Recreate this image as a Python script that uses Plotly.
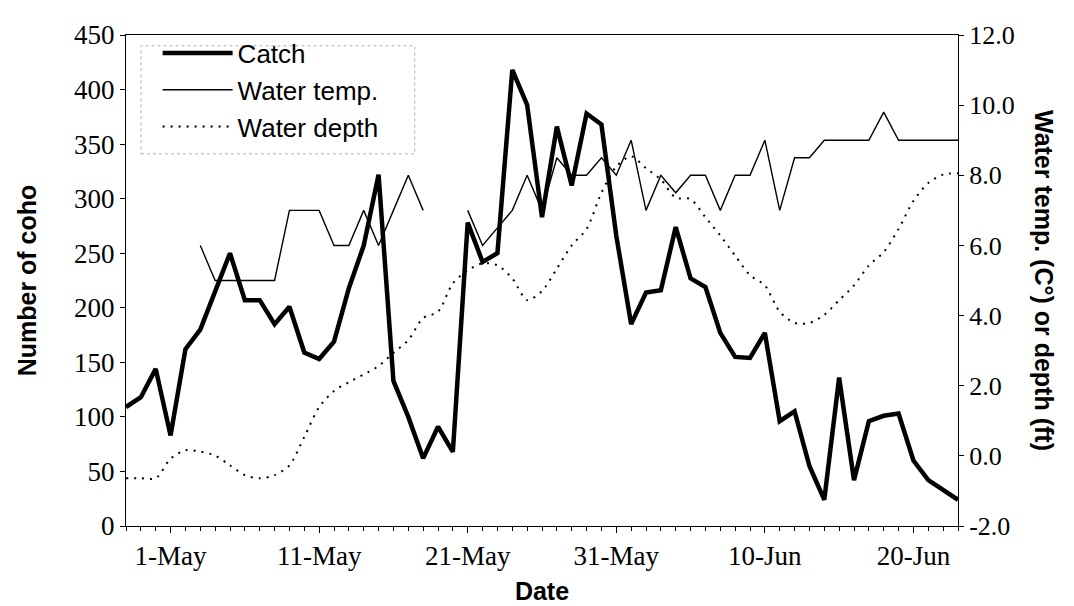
import pandas as pd
import plotly.graph_objects as go

# ---------------- data ----------------
start_date = "2001-04-28"

catch = [109, 118, 144, 83, 162, 180, 215, 250, 207, 207,
         185, 201, 159, 153, 169, 218, 257, 322, 133, 100,
         62, 91, 68, 278, 242, 250, 418, 386, 283, 366,
         312, 378, 368, 266, 185, 214, 216, 274, 227, 219,
         177, 155, 154, 177, 96, 105, 55, 24, 136, 42,
         96, 101, 103, 60, 42, 33, 24]

water_temp = [None, None, None, None, None, 6.0, 5.0, 5.0, 5.0, 5.0,
              5.0, 7.0, 7.0, 7.0, 6.0, 6.0, 7.0, 6.0, 7.0, 8.0,
              7.0, None, None, 7.0, 6.0, 6.5, 7.0, 8.0, 7.0, 8.5,
              8.0, 8.0, 8.5, 8.0, 9.0, 7.0, 8.0, 7.5, 8.0, 8.0,
              7.0, 8.0, 8.0, 9.0, 7.0, 8.5, 8.5, 9.0, 9.0, 9.0,
              9.0, 9.8, 9.0, 9.0, 9.0, 9.0, 9.0]

water_depth = [-0.64, -0.64, -0.64, -0.08, 0.16, 0.12, 0.01, -0.27, -0.55, -0.64,
               -0.55, -0.27, 0.54, 1.39, 1.85, 2.10, 2.32, 2.56, 2.94, 3.30,
               3.93, 4.11, 4.92, 5.29, 5.49, 5.43, 5.06, 4.44, 4.70, 5.34,
               6.00, 6.47, 7.50, 8.25, 8.54, 8.20, 7.88, 7.36, 7.32, 6.80,
               6.28, 5.71, 5.15, 4.86, 4.11, 3.79, 3.79, 4.02, 4.44, 4.86,
               5.43, 5.81, 6.47, 7.27, 7.78, 8.02, 8.06]

tick_dates = ["2001-05-01", "2001-05-11", "2001-05-21",
              "2001-05-31", "2001-06-10", "2001-06-20"]
tick_labels = ["1-May", "11-May", "21-May", "31-May", "10-Jun", "20-Jun"]

left_ticks = [0, 50, 100, 150, 200, 250, 300, 350, 400, 450]
right_ticks = [-2, 0, 2, 4, 6, 8, 10, 12]
right_tick_labels = ["-2.0", "0.0", "2.0", "4.0", "6.0", "8.0", "10.0", "12.0"]

dates = pd.date_range(start_date, periods=len(catch), freq="D")

SERIF = "Liberation Serif, Times New Roman, serif"
SANS = "Liberation Sans, Arial, sans-serif"

fig = go.Figure()
fig.add_trace(go.Scatter(x=dates, y=catch, name="Catch", mode="lines",
                         line=dict(color="black", width=4.5)))
fig.add_trace(go.Scatter(x=dates, y=water_temp, name="Water temp.", mode="lines",
                         yaxis="y2", connectgaps=False,
                         line=dict(color="black", width=1.4)))
fig.add_trace(go.Scatter(x=dates, y=water_depth, name="Water depth", mode="lines",
                         yaxis="y2",
                         line=dict(color="black", width=2, dash="2px,6px",
                                   shape="spline", smoothing=0.8)))

fig.update_layout(
    width=1074, height=606,
    margin=dict(l=118, r=124, t=22, b=88),
    paper_bgcolor="white", plot_bgcolor="white",
    showlegend=True,
    legend=dict(x=0.038, y=1.011, xanchor="left", yanchor="top",
                font=dict(family=SANS, size=26, color="black"),
                bgcolor="rgba(255,255,255,0)", borderwidth=0,
                itemwidth=70, tracegroupgap=0),
    shapes=[dict(type="rect", xref="paper", yref="paper",
                 x0=0.018, x1=0.347, y0=0.758, y1=0.978,
                 line=dict(color="#b0b0b0", width=1, dash="dot"),
                 fillcolor="rgba(0,0,0,0)", layer="below")],
    xaxis=dict(
        type="date",
        range=[dates[0], dates[-1]],
        tickvals=tick_dates, ticktext=tick_labels,
        ticks="outside", ticklen=6, tickcolor="black", tickwidth=1,
        minor=dict(ticks="outside", ticklen=4, tickcolor="black",
                   dtick=86400000, tick0=start_date, showgrid=False),
        showline=True, linecolor="black", linewidth=1, mirror=True,
        showgrid=False, zeroline=False,
        tickfont=dict(family=SERIF, size=27, color="black"),
        title=dict(text="Date", standoff=12,
                   font=dict(family=SANS, size=25, color="black", weight="bold")),
    ),
    yaxis=dict(
        range=[0, 450], tickvals=left_ticks,
        ticks="outside", ticklen=5, tickcolor="black",
        showline=True, linecolor="black", linewidth=1, mirror=True,
        showgrid=False, zeroline=False,
        tickfont=dict(family=SERIF, size=27, color="black"),
        title=dict(text="Number of coho", standoff=30,
                   font=dict(family=SANS, size=25, color="black", weight="bold")),
    ),
    yaxis2=dict(
        overlaying="y", side="right",
        range=[-2, 12], tickvals=right_ticks, ticktext=right_tick_labels,
        ticks="outside", ticklen=5, tickcolor="black",
        showline=True, linecolor="black", linewidth=1,
        showgrid=False, zeroline=False,
        tickfont=dict(family=SERIF, size=26, color="black"),
    ),
    annotations=[dict(
        text="<b>Water temp. (C°) or depth (ft)</b>",
        xref="paper", yref="paper", x=1.104, y=0.5,
        xanchor="center", yanchor="middle", textangle=90, showarrow=False,
        font=dict(family=SANS, size=25, color="black"),
    )],
)

fig.write_html("out.html")
